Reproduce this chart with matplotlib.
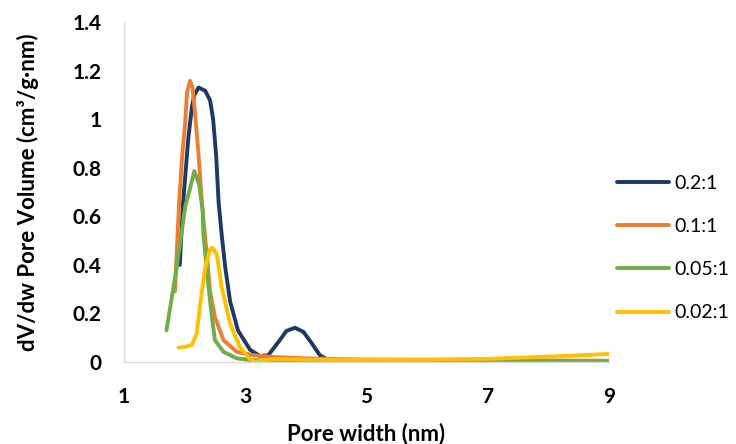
import matplotlib
matplotlib.use("Agg")
import matplotlib.pyplot as plt

plt.rcParams['font.family'] = ['Lato', 'DejaVu Sans']

# Series: 0.2:1
x_02 = [1.92, 1.97, 2.06, 2.12, 2.16, 2.23, 2.34, 2.42, 2.47, 2.52, 2.56, 2.61, 2.67, 2.75,
        2.88, 3.08, 3.24, 3.38, 3.57, 3.68, 3.82, 3.96, 4.10, 4.23, 4.37, 4.8, 6.0, 9.0]
y_02 = [0.40, 0.64, 0.92, 1.05, 1.10, 1.13, 1.117, 1.077, 1.00, 0.85, 0.66, 0.527, 0.39, 0.25,
        0.13, 0.05, 0.025, 0.028, 0.09, 0.128, 0.141, 0.124, 0.076, 0.028, 0.008, 0.007, 0.006, 0.004]

# Series: 0.1:1
x_01 = [1.84, 1.87, 1.91, 1.96, 2.01, 2.04, 2.09, 2.13, 2.17, 2.23, 2.29, 2.36, 2.42, 2.50,
        2.64, 2.86, 3.13, 3.5, 4.0, 5.0, 9.0]
y_01 = [0.29, 0.45, 0.66, 0.85, 0.99, 1.11, 1.158, 1.13, 1.03, 0.853, 0.64, 0.457, 0.29, 0.185,
        0.09, 0.042, 0.028, 0.02, 0.015, 0.01, 0.005]

# Series: 0.05:1
x_005 = [1.70, 1.87, 2.01, 2.09, 2.16, 2.24, 2.30, 2.31, 2.39, 2.45, 2.50, 2.64, 2.86, 3.08,
         3.5, 5.0, 9.0]
y_005 = [0.13, 0.39, 0.64, 0.716, 0.786, 0.73, 0.62, 0.526, 0.32, 0.185, 0.09, 0.042, 0.015, 0.008,
         0.006, 0.004, 0.003]

# Series: 0.02:1
x_002 = [1.90, 2.00, 2.12, 2.20, 2.25, 2.34, 2.42, 2.46, 2.53, 2.61, 2.75, 2.91, 3.08, 3.16,
         3.41, 3.7, 4.0, 5.0, 6.0, 7.0, 8.0, 9.0]
y_002 = [0.06, 0.062, 0.07, 0.117, 0.226, 0.39, 0.465, 0.47, 0.444, 0.31, 0.158, 0.062, 0.011, 0.001,
         0.011, 0.012, 0.01, 0.009, 0.01, 0.013, 0.022, 0.033]

labels = ['0.2:1', '0.1:1', '0.05:1', '0.02:1']
colors = ['#203864', '#ED7D31', '#70AD47', '#FFC000']
x_ticks = [1, 3, 5, 7, 9]
y_ticks = [0, 0.2, 0.4, 0.6, 0.8, 1.0, 1.2, 1.4]
y_ticklabels = ['0', '0.2', '0.4', '0.6', '0.8', '1', '1.2', '1.4']

fig = plt.figure(figsize=(7.36, 4.44), dpi=100)
ax = fig.add_axes([124/736, 1-362/444, (609-124)/736, (362-22)/444])

series = [(x_02, y_02), (x_01, y_01), (x_005, y_005), (x_002, y_002)]
for (xs, ys), lab, c in zip(series, labels, colors):
    ax.plot(xs, ys, color=c, lw=2.8, label=lab, solid_capstyle='round', solid_joinstyle='round')

ax.set_xlim(1, 9)
ax.set_ylim(0, 1.4)
ax.set_xticks(x_ticks)
ax.set_xticklabels([str(t) for t in x_ticks])
ax.set_yticks(y_ticks)
ax.set_yticklabels(y_ticklabels)
ax.tick_params(axis='y', length=0, labelsize=15, pad=16)
ax.tick_params(axis='x', length=0, labelsize=15, pad=18)
for t in ax.get_xticklabels() + ax.get_yticklabels():
    t.set_fontweight('bold')
for s in ['top', 'right']:
    ax.spines[s].set_visible(False)
for s in ['left', 'bottom']:
    ax.spines[s].set_color('#D9D9D9')
    ax.spines[s].set_linewidth(1.0)

ax.set_xlabel('Pore width (nm)', fontsize=16, fontweight='bold', labelpad=11)
ax.set_ylabel('dV/dw Pore Volume (cm³/g·nm)', fontsize=16, fontweight='bold', labelpad=24)

leg = ax.legend(loc='center left', bbox_to_anchor=(1.0, 0.335), frameon=False, fontsize=14,
                handlelength=2.7, labelspacing=1.35, handletextpad=0.26, borderaxespad=0.0)

fig.savefig('out.png', dpi=100)
